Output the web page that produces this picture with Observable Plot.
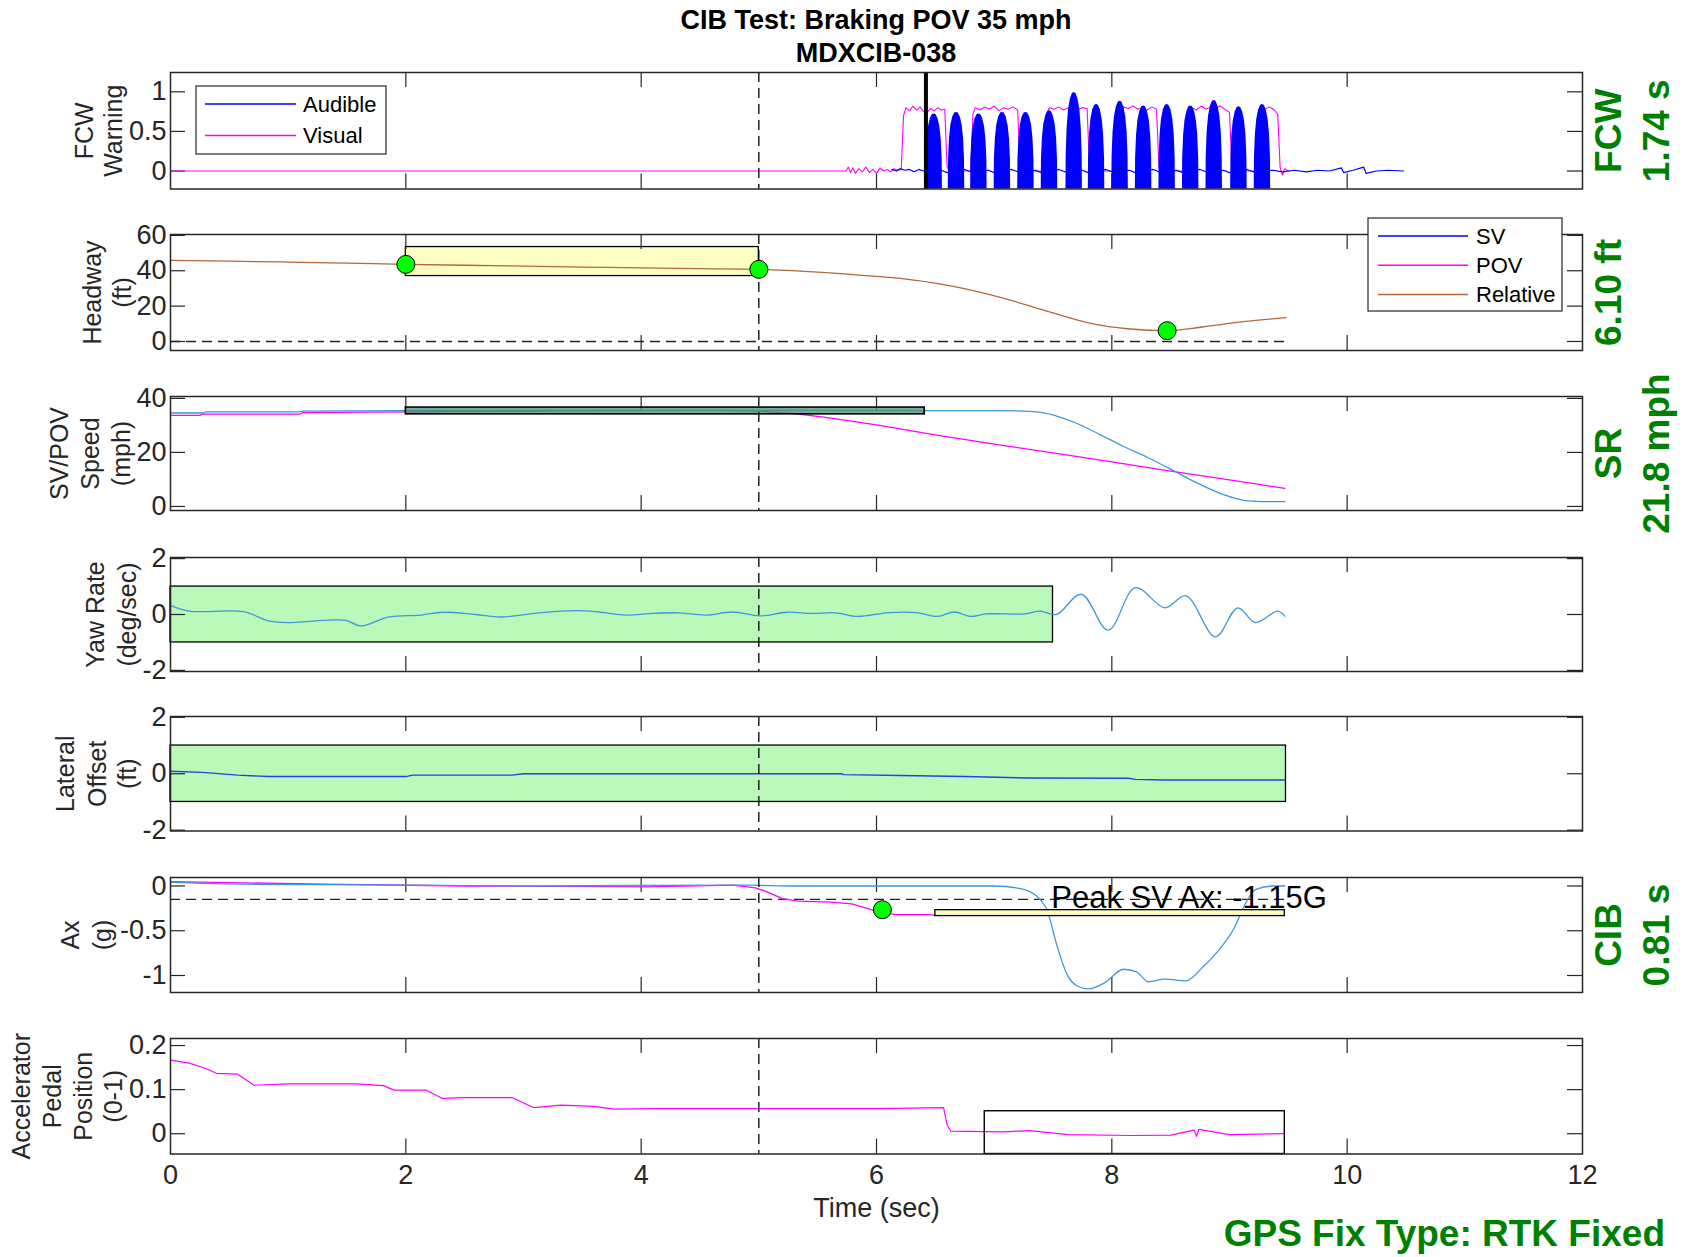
<!DOCTYPE html>
<html><head><meta charset="utf-8">
<script src="https://cdn.jsdelivr.net/npm/d3@7"></script>
<script src="https://cdn.jsdelivr.net/npm/@observablehq/plot@0.6"></script>
<style>
body{margin:0;background:#fff;}
#root{position:relative;width:1690px;height:1257px;background:#fff;font-family:"Liberation Sans",Arial,Helvetica,sans-serif;color:#262626;overflow:hidden;}
.abs{position:absolute;}
.title{position:absolute;left:376px;width:1000px;text-align:center;font-weight:bold;font-size:27px;line-height:32px;color:#000;}
</style></head><body><div id="root"></div>
<script>
// ================= DATA =================
const xTicks = [0, 2, 4, 6, 8, 10, 12];
const xTicksInner = [2, 4, 6, 8, 10];
const eventTime = 5;      // dashed reference line
const fcwOnset = 6.42;    // thick black FCW onset line

// Panel 1: FCW warning
const fcwTicks = [0, 0.5, 1];
const visualT = [0,5.74,5.76,5.78,5.80,5.82,5.85,5.88,5.91,5.94,5.97,6.00,6.03,6.06,6.09,6.12,6.15,6.18,6.21,
  6.23,6.25,6.28,6.31,6.34,6.37,6.40,6.43,6.46,6.49,6.52,6.55,6.58,6.60,6.62,
  6.80,6.82,6.84,6.88,6.92,6.96,7.00,7.04,7.08,7.12,7.16,7.20,7.22,7.24,
  7.43,7.45,7.47,7.51,7.55,7.59,7.63,7.67,7.71,7.75,7.79,7.81,7.83,
  8.06,8.08,8.10,8.14,8.18,8.22,8.26,8.30,8.34,8.38,8.40,8.42,
  8.64,8.66,8.68,8.72,8.76,8.80,8.84,8.88,8.92,8.96,9.00,9.02,9.04,
  9.22,9.24,9.26,9.30,9.34,9.38,9.41,9.43,9.45,9.47,9.50];
const visualV = [0,0,0.05,-0.02,0.04,-0.03,0.03,-0.01,0.05,-0.02,0.02,-0.03,0.04,0.00,0.02,-0.01,0.03,0.01,0.02,
  0.70,0.80,0.76,0.82,0.77,0.81,0.75,0.74,0.79,0.76,0.80,0.77,0.78,0.05,0,
  0,0.72,0.80,0.77,0.81,0.78,0.82,0.76,0.80,0.78,0.81,0.77,0.05,0,
  0,0.74,0.80,0.78,0.81,0.77,0.80,0.83,0.78,0.80,0.79,0.05,0,
  0,0.72,0.81,0.79,0.82,0.78,0.80,0.77,0.81,0.78,0.05,0,
  0,0.73,0.80,0.77,0.82,0.78,0.81,0.79,0.82,0.78,0.74,0.05,0,
  0,0.72,0.80,0.78,0.81,0.77,0.72,0.05,-0.05,0.03,0];
const audibleT = [6.13,6.17,6.20,6.24,6.28,6.32,6.36,6.40,6.55,6.60,6.75,6.80,6.95,7.00,7.15,7.20,7.35,7.40,7.55,7.60,
  7.75,7.80,7.95,8.00,8.15,8.20,8.35,8.40,8.55,8.60,8.75,8.80,8.95,9.00,9.15,9.20,9.37,9.45,9.55,9.65,9.75,9.85,
  9.95,9.97,10.05,10.14,10.16,10.25,10.35,10.48];
const audibleV = [0.02,0.00,0.03,0.01,0.02,-0.01,0.02,0.00,0.01,-0.02,0.02,-0.01,0.01,-0.02,0.02,-0.01,0.01,-0.02,0.02,-0.01,
  0.01,-0.02,0.02,-0.01,0.01,-0.02,0.02,-0.01,0.01,-0.02,0.02,-0.01,0.01,-0.02,0.02,-0.01,0.01,-0.01,0.01,-0.01,0.01,0.00,
  0.04,-0.02,0.01,0.05,-0.03,0.00,0.01,0.00];
const burstCenters = [6.49,6.68,6.87,7.07,7.27,7.47,7.68,7.87,8.07,8.27,8.47,8.67,8.87,9.08,9.28];
const burstPeaks   = [0.72,0.74,0.72,0.74,0.74,0.76,0.99,0.84,0.88,0.82,0.84,0.82,0.89,0.81,0.84];
const burstDt   = [-0.07,-0.068,-0.06,-0.048,-0.032,-0.015,0,0.015,0.032,0.048,0.06,0.068,0.07];
const burstFrac = [-0.5,0.2,0.55,0.78,0.92,0.99,1,0.99,0.92,0.78,0.55,0.2,-0.5];

// Panel 2: headway
const hwTicks = [0, 20, 40, 60];
const hwT = [0,0.5,1,1.5,2,2.5,3,3.5,4,4.5,5,5.5,6.0,6.2,6.63,7.06,7.49,7.83,8.13,8.47,8.77,9.12,9.48];
const hwV = [45.9,45.4,44.9,44.3,43.6,43.1,42.6,42.1,41.6,41.2,40.8,39.2,36.8,35.7,31.4,24.8,16.3,10.1,7.2,6.1,8.2,11.2,13.5];
const hwBox = {x1: 2, x2: 5, y1: 37.0, y2: 53.4};
const hwDotsT = [2, 5, 8.47];
const hwDotsV = [43.6, 40.8, 6.1];
const hwZeroEnd = 9.48;

// Panel 3: speeds
const spTicks = [0, 20, 40];
const svT = [0,0.28,0.30,1.10,1.12,2,3,4,5,6,7,7.25,7.40,7.55,7.70,7.90,8.10,8.30,8.50,8.70,8.90,9.05,9.15,9.30,9.47];
const svV = [34.6,34.6,35.0,35.0,35.3,35.5,35.6,35.6,35.6,35.5,35.5,35.3,34.8,33.2,30.8,26.6,22.2,18.2,13.8,9.2,5.2,3.0,2.1,1.8,1.8];
const povT = [0,0.25,0.27,1.10,1.12,2.0,3.0,4.0,4.6,5.0,5.3,5.6,6.0,6.5,7.0,7.5,8.0,8.5,9.0,9.47];
const povV = [33.7,33.7,34.2,34.2,34.7,35.0,35.3,35.5,35.6,35.3,34.4,32.8,30.2,26.5,23.1,19.8,16.5,13.1,9.8,6.7];
const spBox = {x1: 2, x2: 6.41, y1: 34.1, y2: 36.6};

// Panel 4: yaw rate
const yawTicks = [-2, 0, 2];
const yawT = [0,0.16,0.62,0.84,1.03,1.30,1.49,1.62,1.85,2.13,2.31,2.59,2.81,3.13,3.45,3.64,3.87,4.10,4.32,4.55,4.78,5.01,5.24,5.45,5.65,5.84,6.11,6.34,6.52,6.66,6.80,6.93,7.26,7.39,7.53,7.74,7.97,8.20,8.45,8.63,8.88,9.07,9.22,9.41,9.47];
const yawV = [0.33,0.12,0.10,-0.24,-0.29,-0.21,-0.21,-0.41,-0.09,-0.02,0.08,0.00,-0.09,0.06,0.14,0.09,-0.02,0.04,0.06,-0.02,0.09,-0.05,0.08,0.04,0.06,-0.07,0.07,0.07,-0.07,0.09,-0.07,0.02,0.02,0.12,0.00,0.73,-0.56,0.96,0.24,0.67,-0.80,0.24,-0.29,0.12,-0.06];
const yawBox = {x1: 0, x2: 7.5, y1: -1, y2: 1};

// Panel 5: lateral offset
const latTicks = [-2, 0, 2];
const latT = [0,0.27,0.57,0.83,2.0,2.06,2.9,3.0,5.0,5.7,5.72,6.2,6.75,7.3,8.14,8.2,8.45,9.47];
const latV = [0.09,0.05,-0.05,-0.10,-0.10,-0.05,-0.05,0.00,0.00,0.00,-0.03,-0.06,-0.10,-0.15,-0.16,-0.20,-0.22,-0.22];
const latBox = {x1: 0, x2: 9.48, y1: -1, y2: 1};

// Panel 6: longitudinal acceleration
const axTicks = [-1, -0.5, 0];
const axSvT = [0,0.66,2.0,3.0,4.9,5.3,7.0,7.26,7.44,7.53,7.62,7.71,7.80,7.94,8.10,8.21,8.31,8.45,8.63,8.77,8.90,9.04,9.13,9.22,9.36,9.47];
const axSvV = [0.04,0.02,0.01,0.0,0.01,0.0,0.0,-0.04,-0.24,-0.65,-0.99,-1.12,-1.15,-1.08,-0.93,-0.96,-1.07,-1.04,-1.06,-0.91,-0.73,-0.47,-0.21,-0.04,0.0,0.0];
const axPovT = [0,1.3,2.5,4.05,4.78,4.97,5.06,5.20,5.33,5.61,5.79,5.97,6.16,6.43,6.55];
const axPovV = [0.05,0.02,0.0,-0.01,0.01,-0.02,-0.06,-0.14,-0.17,-0.18,-0.20,-0.27,-0.32,-0.32,-0.33];
const axThreshold = -0.15;
const axThresholdEnd = 9.47;
const axBox = {x1: 6.5, x2: 9.47, y1: -0.336, y2: -0.27};
const axDot = {t: 6.05, v: -0.265};
const axNote = {t: 7.485, v: -0.13, text: "Peak SV Ax: -1.15G"};

// Panel 7: accelerator pedal
const accTicks = [0, 0.1, 0.2];
const accT = [0,0.16,0.30,0.39,0.57,0.60,0.71,1.0,1.58,1.81,1.90,2.17,2.31,2.50,2.90,3.09,3.32,3.60,3.77,4.14,5.0,6.0,6.57,6.60,6.63,7.08,7.30,7.63,8.17,8.50,8.70,8.72,8.74,9.0,9.47];
const accV = [0.167,0.160,0.148,0.137,0.135,0.130,0.110,0.113,0.113,0.109,0.099,0.099,0.080,0.082,0.082,0.059,0.065,0.062,0.056,0.057,0.057,0.057,0.059,0.020,0.006,0.004,0.007,-0.002,-0.004,-0.003,0.008,-0.006,0.010,-0.002,0.0];
const accBox = {x1: 6.92, x2: 9.47, y2: 0.051};

// Text
const titleLines = ["CIB Test: Braking POV 35 mph", "MDXCIB-038"];
const gpsText = "GPS Fix Type: RTK Fixed";
const xLabel = "Time (sec)";

// ================= RENDER =================
const FONT = '"Liberation Sans", Arial, Helvetica, sans-serif';
const AX = "#262626";
const GREEN = "#008000";
const LEFT = 170, RIGHT_EDGE = 1582, W = 1690, TICK = 15;
const TICKFONT = 27, GREENFONT = 37;
const frameW = RIGHT_EDGE - LEFT;
const SVC = "#3f97d8", MAG = "#ff00ff", BLUE = "#0000ff", BROWN = "#b0683c", LATC = "#2a3fe0";
const DASH = "10,6";
const root = document.getElementById("root");
const zip = (T, V) => T.map((t, i) => ({t, v: V[i]}));

function yLabelMarks(lines, xs) {
  return lines.map((s, i) => Plot.text([s], {text: d => d, frameAnchor: "left", rotate: -90, dx: xs[i] - LEFT,
    textAnchor: "middle", lineAnchor: "middle", fontSize: 25, fill: AX}));
}
function greenMarks(lines, xs) {
  return lines.map((s, i) => Plot.text([s], {text: d => d, frameAnchor: "right", rotate: -90, dx: xs[i] - RIGHT_EDGE,
    textAnchor: "middle", lineAnchor: "middle", fontSize: GREENFONT, fontWeight: "bold", fill: GREEN}));
}

function panel(cfg) {
  const mt = 10, mb = cfg.bottom ? 100 : 10;
  const H = cfg.height;
  const marks = [
    ...(cfg.under || []),
    Plot.ruleX(xTicksInner, {x: d => d, stroke: AX, strokeWidth: 1.2, insetBottom: H - TICK}),
    Plot.ruleX(xTicksInner, {x: d => d, stroke: AX, strokeWidth: 1.2, insetTop: H - TICK}),
    Plot.ruleY(cfg.yTicks, {y: d => d, stroke: AX, strokeWidth: 1.2, insetRight: frameW - TICK}),
    Plot.ruleY(cfg.yTicks, {y: d => d, stroke: AX, strokeWidth: 1.2, insetLeft: frameW - TICK}),
    ...cfg.marks,
    Plot.ruleX([eventTime], {x: d => d, stroke: "#000", strokeWidth: 1.3, strokeDasharray: DASH}),
    ...(cfg.over || []),
    Plot.frame({stroke: AX, strokeWidth: 1.5}),
    Plot.axisY(cfg.yTicks, {tickSize: 0, tickPadding: 4, tickFormat: d => String(d), label: null, fontSize: TICKFONT}),
    ...yLabelMarks(cfg.ylabel, cfg.ylabelX),
    ...(cfg.green ? greenMarks(cfg.green, cfg.greenX) : [])
  ];
  if (cfg.bottom) {
    marks.push(Plot.axisX(xTicks, {tickSize: 0, tickPadding: 11, tickFormat: d => String(d), label: null, fontSize: TICKFONT}));
    marks.push(Plot.text([xLabel], {text: d => d, frameAnchor: "bottom", dy: 54, lineAnchor: "middle", fontSize: TICKFONT, fill: AX}));
  }
  const svg = Plot.plot({
    width: W, height: H + mt + mb,
    marginLeft: LEFT, marginRight: W - RIGHT_EDGE, marginTop: mt, marginBottom: mb,
    x: cfg.bottom ? {domain: [0, 12]} : {domain: [0, 12], axis: null},
    y: {domain: cfg.domain},
    style: {fontFamily: FONT, fontSize: "25px", color: AX, background: "transparent", overflow: "visible"},
    marks
  });
  svg.style.position = "absolute";
  svg.style.left = "0px";
  svg.style.top = (cfg.top - mt) + "px";
  root.appendChild(svg);
}

// Panel 1
const P1DOM = [-0.227, 1.244];
const burstData = burstCenters.flatMap((c, i) => burstDt.map((dt, j) =>
  ({burst: i, t: c + dt, hi: Math.max(P1DOM[0], burstFrac[j] * burstPeaks[i])})));
panel({
  top: 71.5, height: 116.5, domain: P1DOM, yTicks: fcwTicks,
  ylabel: ["FCW", "Warning"], ylabelX: [84, 113],
  green: ["FCW", "1.74 s"], greenX: [1609, 1657],
  marks: [
    Plot.line(zip(visualT, visualV), {x: "t", y: "v", stroke: MAG, strokeWidth: 1.1}),
    Plot.line(zip(audibleT, audibleV), {x: "t", y: "v", stroke: BLUE, strokeWidth: 1.2}),
    Plot.areaY(burstData, {x: "t", y1: () => P1DOM[0], y2: "hi", z: "burst", fill: BLUE}),
    Plot.ruleX([fcwOnset], {x: d => d, stroke: "#000", strokeWidth: 4})
  ]
});

// Panel 2
panel({
  top: 233.5, height: 116, domain: [-5.1, 60.5], yTicks: hwTicks,
  ylabel: ["Headway", "(ft)"], ylabelX: [92, 122],
  green: ["6.10 ft"], greenX: [1609],
  under: [Plot.rect([hwBox], {x1: "x1", x2: "x2", y1: "y1", y2: "y2", fill: "#ffffc4", stroke: "#000", strokeWidth: 1.3})],
  marks: [
    Plot.ruleY([0], {y: d => d, x1: 0, x2: hwZeroEnd, stroke: "#222", strokeWidth: 1.3, strokeDasharray: DASH}),
    Plot.line(zip(hwT, hwV), {x: "t", y: "v", stroke: BROWN, strokeWidth: 1.3, curve: "monotone-x"})
  ],
  over: [Plot.dot(zip(hwDotsT, hwDotsV), {x: "t", y: "v", r: 9, fill: "#00ff00", stroke: "#000", strokeWidth: 1})]
});

// Panel 3
panel({
  top: 395.5, height: 114, domain: [-1.5, 40.7], yTicks: spTicks,
  ylabel: ["SV/POV", "Speed", "(mph)"], ylabelX: [59, 90, 121],
  green: ["SR", "21.8 mph"], greenX: [1609, 1657],
  marks: [
    Plot.line(zip(povT, povV), {x: "t", y: "v", stroke: MAG, strokeWidth: 1.3}),
    Plot.line(zip(svT, svV), {x: "t", y: "v", stroke: SVC, strokeWidth: 1.3, curve: "monotone-x"}),
    Plot.rect([spBox], {x1: "x1", x2: "x2", y1: "y1", y2: "y2", fill: "#4f8f72", fillOpacity: 0.75, stroke: "#000", strokeWidth: 1.6})
  ]
});

// Panel 4
panel({
  top: 557, height: 114, domain: [-2.04, 2.04], yTicks: yawTicks,
  ylabel: ["Yaw Rate", "(deg/sec)"], ylabelX: [95, 127],
  under: [Plot.rect([yawBox], {x1: "x1", x2: "x2", y1: "y1", y2: "y2", fill: "#bbf9bb", stroke: "#000", strokeWidth: 1.3})],
  marks: [Plot.line(zip(yawT, yawV), {x: "t", y: "v", stroke: SVC, strokeWidth: 1.3, curve: "catmull-rom"})]
});

// Panel 5
panel({
  top: 716, height: 114.5, domain: [-2.03, 2.03], yTicks: latTicks,
  ylabel: ["Lateral", "Offset", "(ft)"], ylabelX: [65, 97, 127],
  under: [Plot.rect([latBox], {x1: "x1", x2: "x2", y1: "y1", y2: "y2", fill: "#bbf9bb", stroke: "#000", strokeWidth: 1.3})],
  marks: [Plot.line(zip(latT, latV), {x: "t", y: "v", stroke: LATC, strokeWidth: 1.4})]
});

// Panel 6
panel({
  top: 877, height: 115, domain: [-1.19, 0.095], yTicks: axTicks,
  ylabel: ["Ax", "(g)"], ylabelX: [70, 102],
  green: ["CIB", "0.81 s"], greenX: [1609, 1657],
  marks: [
    Plot.ruleY([axThreshold], {y: d => d, x1: 0, x2: axThresholdEnd, stroke: "#222", strokeWidth: 1.3, strokeDasharray: DASH}),
    Plot.line(zip(axPovT, axPovV), {x: "t", y: "v", stroke: MAG, strokeWidth: 1.3}),
    Plot.line(zip(axSvT, axSvV), {x: "t", y: "v", stroke: SVC, strokeWidth: 1.3, curve: "monotone-x"}),
    Plot.rect([axBox], {x1: "x1", x2: "x2", y1: "y1", y2: "y2", fill: "#ffffc4", stroke: "#000", strokeWidth: 1.3}),
    Plot.text([axNote], {x: "t", y: "v", text: "text", textAnchor: "start", lineAnchor: "middle", fontSize: 31, fill: "#000"})
  ],
  over: [Plot.dot([axDot], {x: "t", y: "v", r: 9, fill: "#00ff00", stroke: "#000", strokeWidth: 1})]
});

// Panel 7
const P7DOM = [-0.046, 0.216];
panel({
  top: 1037.5, height: 115.5, domain: P7DOM, yTicks: accTicks, bottom: true,
  ylabel: ["Accelerator", "Pedal", "Position", "(0-1)"], ylabelX: [21, 52, 83, 113],
  marks: [
    Plot.line(zip(accT, accV), {x: "t", y: "v", stroke: MAG, strokeWidth: 1.2}),
    Plot.rect([accBox], {x1: "x1", x2: "x2", y1: () => P7DOM[0], y2: "y2", fill: "none", stroke: "#000", strokeWidth: 1.4})
  ]
});

// Legends (SVG overlays with real text)
function legend(x, y, w, h, items) {
  const ns = "http://www.w3.org/2000/svg";
  const s = document.createElementNS(ns, "svg");
  s.setAttribute("width", w + 2); s.setAttribute("height", h + 2);
  s.style.position = "absolute"; s.style.left = (x - 1) + "px"; s.style.top = (y - 1) + "px";
  let html = `<rect x="1" y="1" width="${w}" height="${h}" fill="#fff" stroke="${AX}" stroke-width="1.2"/>`;
  items.forEach(it => {
    html += `<line x1="${it.lx1 + 1}" x2="${it.lx2 + 1}" y1="${it.y + 1}" y2="${it.y + 1}" stroke="${it.color}" stroke-width="1.5"/>`;
    html += `<text x="${it.tx + 1}" y="${it.y + 1}" dy="0.35em" font-family='${FONT}' font-size="22" fill="#000">${it.label}</text>`;
  });
  s.innerHTML = html;
  root.appendChild(s);
}
legend(196, 85.5, 190, 68, [
  {label: "Audible", color: BLUE, y: 18, lx1: 9, lx2: 100, tx: 107},
  {label: "Visual", color: MAG, y: 49.5, lx1: 9, lx2: 100, tx: 107}
]);
legend(1367.5, 217.5, 194, 93, [
  {label: "SV", color: BLUE, y: 18, lx1: 10, lx2: 100, tx: 108},
  {label: "POV", color: MAG, y: 47.3, lx1: 10, lx2: 100, tx: 108},
  {label: "Relative", color: BROWN, y: 76.6, lx1: 10, lx2: 100, tx: 108}
]);

// Titles and footer
titleLines.forEach((t, i) => {
  const d = document.createElement("div");
  d.className = "title"; d.textContent = t;
  d.style.top = (i === 0 ? 3.5 : 37) + "px";
  root.appendChild(d);
});
const g = document.createElement("div");
g.className = "abs"; g.textContent = gpsText;
Object.assign(g.style, {right: "25px", top: "1213px", fontSize: GREENFONT + "px", lineHeight: "42px", fontWeight: "bold", color: GREEN, whiteSpace: "nowrap"});
root.appendChild(g);
</script></body></html>
